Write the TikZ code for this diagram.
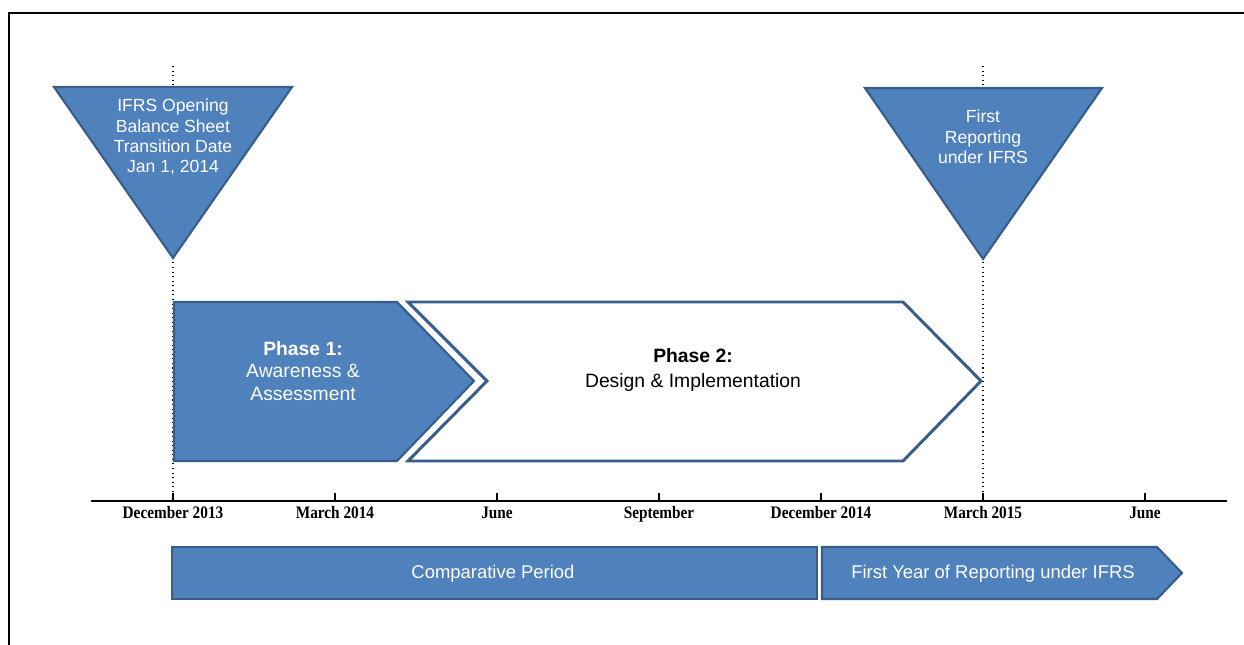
\documentclass[tikz,border=0pt]{standalone}
\usepackage{fontspec}
\setmainfont{Liberation Sans}
\newfontfamily\axisfont[FakeStretch=0.87]{Liberation Serif}
\usetikzlibrary{positioning}

\definecolor{ifrsblue}{HTML}{4F81BD}
\definecolor{edgeblue}{HTML}{385D8A}

\tikzset{
  bluebox/.style={fill=ifrsblue, draw=edgeblue, line width=1.2pt, line join=miter},
  whitebox/.style={fill=white, draw=edgeblue, line width=1.7pt, line join=miter},
  month/.style={anchor=base, inner sep=0pt, font=\axisfont\bfseries\fontsize{10}{12}\selectfont},
  tritext/.style={text=white, align=center, inner sep=0pt, font=\fontsize{10}{11.6}\selectfont},
  phasetext/.style={align=center, inner sep=0pt, font=\fontsize{11}{13}\selectfont},
  bartext/.style={text=white, inner sep=0pt, font=\fontsize{10.5}{12}\selectfont}
}

\begin{document}
\begin{tikzpicture}[x=0.02cm,y=-0.02cm]
    \useasboundingbox (0,0) rectangle (1244,645);

    % Frame
    \draw[line width=1.1pt] (9,645) -- (9,13) -- (1244,13);

    % Time axis
    \coordinate (axL) at (91,501);
    \coordinate (axR) at (1227,501);
    \draw[line width=1.7pt] (axL) -- (axR);
    \foreach \x/\m [count=\i] in {173/December 2013, 335/March 2014, 497/June,
        659/September, 821/December 2014, 983/March 2015, 1145/June}{
        \coordinate (t\i) at (\x,501);
        \draw[line width=0.6pt] (t\i) -- ++(0,-8);
        \node[month] (m\i) at (\x,518) {\m};
    }

    % Dotted markers
    \coordinate (open top) at (173,66);
    \coordinate (first top) at (983,66);
    \draw[dotted, line width=0.6pt] (open top) -- (t1);
    \draw[dotted, line width=0.6pt] (first top) -- (t6);

    % Milestone triangles
    \draw[bluebox] (54,87) -- (292,87) -- (173,258) -- cycle;
    \node[tritext] (open) at (173,137) {IFRS Opening\\Balance Sheet\\Transition Date\\Jan 1, 2014};

    \draw[bluebox] (865,88) -- (1102,88) -- (983,259) -- cycle;
    \node[tritext] (first) at (983,137) {First\\Reporting\\under IFRS};

    % Phases
    \draw[bluebox] (174,302) -- (397,302) -- (474,381) -- (397,461) -- (174,461) -- cycle;
    \node[phasetext, text=white] (phase1) at (303,371) {\textbf{Phase 1:}\\Awareness \&\\Assessment};

    \draw[whitebox] (408,302) -- (903,302) -- (981,381) -- (903,461) -- (408,461) -- (487,381) -- cycle;
    \node[phasetext, font=\fontsize{11}{13.7}\selectfont] (phase2) at (693,370) {\textbf{Phase 2:}\\Design \& Implementation};

    % Reporting periods
    \draw[bluebox] (172,547) rectangle (817,599);
    \node[bartext] (comp) at (493,574) {Comparative Period};

    \draw[bluebox] (822,547) -- (1157,547) -- (1182,573) -- (1157,599) -- (822,599) -- cycle;
    \node[bartext] (year1) at (993,574) {First Year of Reporting under IFRS};
\end{tikzpicture}
\end{document}
